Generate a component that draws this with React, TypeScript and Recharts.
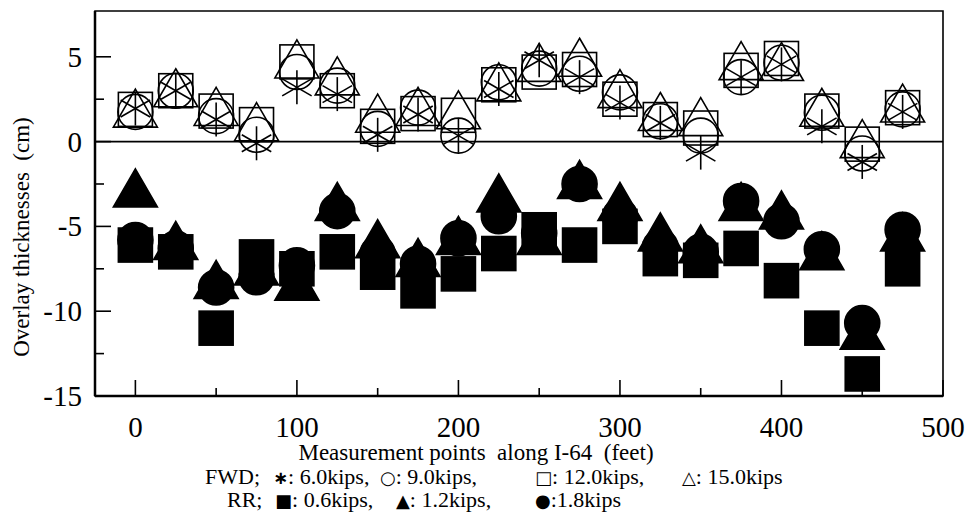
import React from 'react';
import { ScatterChart, Scatter, XAxis, YAxis, ReferenceLine, ReferenceArea } from 'recharts';

// measurement stations along I-64 (feet)
const stations = [0, 25, 50, 75, 100, 125, 150, 175, 200, 225, 250, 275, 300, 325, 350, 375, 400, 425, 450, 475];

// FWD back-calculated overlay thickness (cm)
const fwd60 = [1.95, 3.0, 1.3, -0.1, 3.2, 2.8, 0.4, 1.6, 0.35, 3.1, 4.8, 3.8, 2.3, 1.1, -0.65, 3.8, 4.55, 0.9, -1.2, 1.75];
const fwd90 = [1.75, 3.0, 1.5, 0.4, 4.1, 3.3, 0.75, 2.0, 0.35, 3.5, 4.3, 4.0, 2.9, 1.2, 0.35, 3.8, 4.65, 1.7, -0.7, 1.9];
const fwd120 = [1.9, 3.0, 1.8, 1.0, 4.7, 3.0, 0.9, 1.65, 1.55, 3.35, 4.1, 4.25, 2.5, 1.3, 0.8, 4.2, 4.9, 1.8, -0.15, 2.0];
const fwd150 = [1.6, 2.8, 1.7, 0.8, 4.5, 3.5, 1.3, 1.7, 1.5, 3.15, 4.3, 4.6, 2.75, 1.4, 1.1, 4.4, 4.35, 1.65, -0.2, 1.9];

// RR overlay thickness (cm)
const rr06 = [-6.1, -6.5, -11.0, -6.8, -7.5, -6.5, -7.7, -8.8, -7.8, -6.6, -5.2, -6.1, -5.0, -6.9, -7.0, -6.3, -8.2, -11.0, -13.7, -7.5];
const rr12 = [-3.1, -6.2, -8.5, -7.7, -8.6, -3.9, -6.1, -7.2, -5.9, -3.4, -5.9, -2.6, -3.9, -5.7, -6.4, -3.9, -4.4, -6.8, -11.5, -5.7];
const rr18 = [-5.8, -6.3, -8.6, -8.0, -7.3, -4.1, -6.6, -7.2, -5.7, -4.4, -5.4, -2.5, -4.4, -6.2, -6.5, -3.5, -4.7, -6.35, -10.7, -5.2];

const xTicks = [0, 50, 100, 150, 200, 250, 300, 350, 400, 450, 500];
const yTicks = [-15, -12.5, -10, -7.5, -5, -2.5, 0, 2.5, 5];

const FONT = '"Liberation Serif", "Times New Roman", serif';

const toPoints = (vals: number[]) => stations.map((s, i) => ({ x: s, y: vals[i] }));

const Star = ({ cx, cy }: any) => {
  const r = 17;
  const dx = r * Math.cos(Math.PI / 6);
  const dy = r * Math.sin(Math.PI / 6);
  return (
    <g stroke="#000" strokeWidth={1.6}>
      <line x1={cx} y1={cy - r} x2={cx} y2={cy + r} />
      <line x1={cx - dx} y1={cy - dy} x2={cx + dx} y2={cy + dy} />
      <line x1={cx - dx} y1={cy + dy} x2={cx + dx} y2={cy - dy} />
    </g>
  );
};

const Circle = ({ cx, cy, filled }: any) => (
  <circle cx={cx} cy={cy} r={17.5} fill={filled ? '#000' : 'none'} stroke="#000" strokeWidth={1.6} />
);

const Square = ({ cx, cy, filled }: any) => (
  <rect x={cx - 17} y={cy - 17} width={34} height={34} fill={filled ? '#000' : 'none'} stroke="#000" strokeWidth={1.6} />
);

const Triangle = ({ cx, cy, filled }: any) => {
  const w = 44;
  const h = 38;
  const d = `M${cx},${cy - (2 * h) / 3} L${cx + w / 2},${cy + h / 3} L${cx - w / 2},${cy + h / 3} Z`;
  return <path d={d} fill={filled ? '#000' : 'none'} stroke="#000" strokeWidth={1.6} />;
};

const XTick = ({ x, y, payload }: any) => {
  const v = payload.value;
  const major = v % 100 === 0;
  return (
    <g>
      <line x1={x} y1={y} x2={x} y2={y - (major ? 16 : 8)} stroke="#000" strokeWidth={1.6} />
      {major && (
        <text x={x} y={y + 41} textAnchor="middle" fontFamily={FONT} fontSize={29} fill="#000">
          {v}
        </text>
      )}
    </g>
  );
};

const YTick = ({ x, y, payload }: any) => {
  const v = payload.value;
  const major = v % 5 === 0;
  return (
    <g>
      <line x1={x} y1={y} x2={x + (major ? 16 : 9)} y2={y} stroke="#000" strokeWidth={1.6} />
      {major && (
        <text x={x - 13} y={y + 10} textAnchor="end" fontFamily={FONT} fontSize={29} fill="#000">
          {v < 0 ? '-' + Math.abs(v) : v}
        </text>
      )}
    </g>
  );
};

const txt: React.CSSProperties = {
  position: 'absolute',
  fontFamily: FONT,
  fontSize: 22,
  lineHeight: '24px',
  height: 24,
  whiteSpace: 'pre',
  color: '#000',
};

const sym: React.CSSProperties = { fontSize: 18, fontFamily: '"DejaVu Sans", sans-serif', lineHeight: '20px' };

export default function App() {
  return (
    <div style={{ position: 'fixed', left: 0, top: 0, width: 967, height: 523, background: '#fff' }}>
      <ScatterChart width={967} height={523} margin={{ top: 11, right: 24, left: 0, bottom: 97 }}>
        <XAxis
          type="number"
          dataKey="x"
          domain={[-25, 500]}
          ticks={xTicks}
          allowDataOverflow
          tickSize={0}
          tickMargin={0}
          tickLine={false}
          axisLine={{ stroke: '#000', strokeWidth: 2.5 }}
          tick={<XTick />}
          height={30}
          interval={0}
        />
        <YAxis
          type="number"
          dataKey="y"
          domain={[-15, 7.7]}
          ticks={yTicks}
          allowDataOverflow
          tickSize={0}
          tickMargin={0}
          tickLine={false}
          axisLine={{ stroke: '#000', strokeWidth: 2.5 }}
          tick={<YTick />}
          width={95}
          interval={0}
        />
        <ReferenceArea x1={-25} x2={500} y1={-15} y2={7.7} fill="none" stroke="#000" strokeWidth={1.6} ifOverflow="visible" />
        <ReferenceLine y={0} stroke="#000" strokeWidth={1.6} />
        <Scatter data={toPoints(fwd60)} shape={(p: any) => <Star cx={p.cx} cy={p.cy} />} isAnimationActive={false} />
        <Scatter data={toPoints(fwd90)} shape={(p: any) => <Circle cx={p.cx} cy={p.cy} />} isAnimationActive={false} />
        <Scatter data={toPoints(fwd120)} shape={(p: any) => <Square cx={p.cx} cy={p.cy} />} isAnimationActive={false} />
        <Scatter data={toPoints(fwd150)} shape={(p: any) => <Triangle cx={p.cx} cy={p.cy} />} isAnimationActive={false} />
        <Scatter data={toPoints(rr06)} shape={(p: any) => <Square cx={p.cx} cy={p.cy} filled />} isAnimationActive={false} />
        <Scatter data={toPoints(rr12)} shape={(p: any) => <Triangle cx={p.cx} cy={p.cy} filled />} isAnimationActive={false} />
        <Scatter data={toPoints(rr18)} shape={(p: any) => <Circle cx={p.cx} cy={p.cy} filled />} isAnimationActive={false} />
      </ScatterChart>

      <div
        style={{
          ...txt,
          fontSize: 23,
          left: 22,
          top: 237,
          transform: 'translate(-50%, -50%) rotate(-90deg)',
        }}
      >
        {'Overlay thicknesses  (cm)'}
      </div>

      <div style={{ ...txt, fontSize: 23, left: 476, top: 441, transform: 'translateX(-50%)' }}>
        {'Measurement points  along I-64  (feet)'}
      </div>

      <div style={{ ...txt, left: 205, top: 465 }}>{'FWD;'}</div>
      <div style={{ ...txt, left: 273, top: 465 }}><span style={{ ...sym, fontWeight: 'bold' }}>{'\u2217'}</span>{': 6.0kips,'}</div>
      <div style={{ ...txt, left: 380, top: 465 }}><span style={sym}>{'\u25CB'}</span>{': 9.0kips,'}</div>
      <div style={{ ...txt, left: 535, top: 465 }}><span style={sym}>{'\u25A1'}</span>{': 12.0kips,'}</div>
      <div style={{ ...txt, left: 682, top: 465 }}><span style={sym}>{'\u25B3'}</span>{': 15.0kips'}</div>

      <div style={{ ...txt, left: 227, top: 488 }}>{'RR;'}</div>
      <div style={{ ...txt, left: 275, top: 488 }}><span style={sym}>{'\u25A0'}</span>{': 0.6kips,'}</div>
      <div style={{ ...txt, left: 396, top: 488 }}><span style={sym}>{'\u25B2'}</span>{': 1.2kips,'}</div>
      <div style={{ ...txt, left: 535, top: 488 }}><span style={sym}>{'\u25CF'}</span>{':1.8kips'}</div>
    </div>
  );
}
